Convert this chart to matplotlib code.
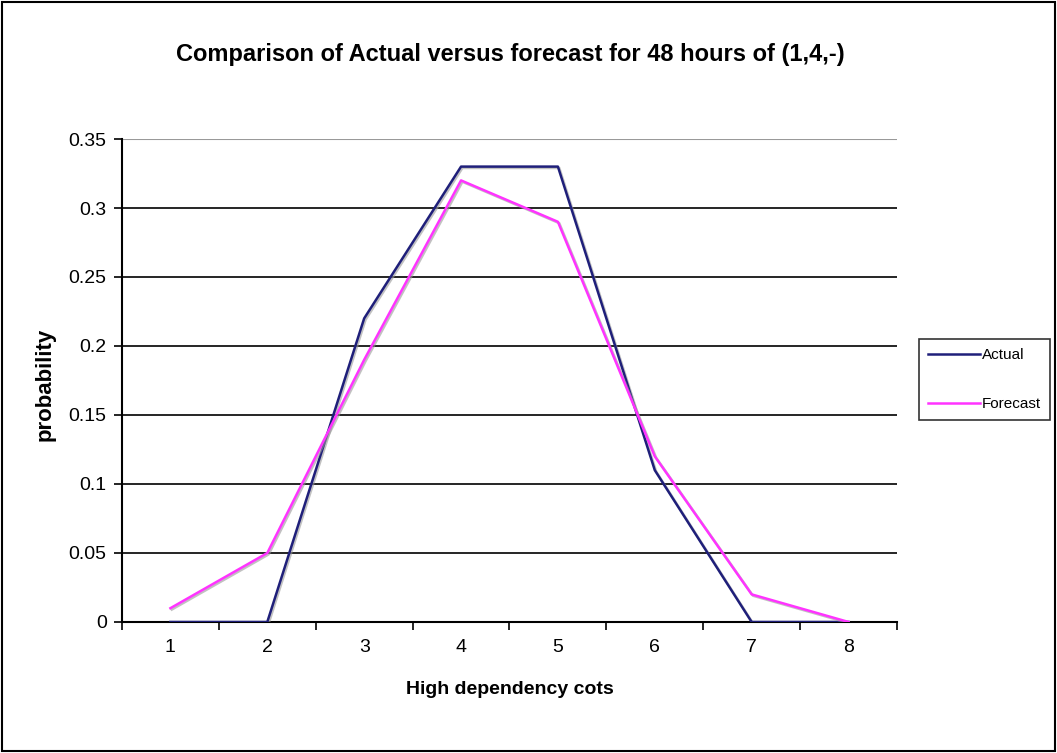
import matplotlib
matplotlib.use("Agg")
import matplotlib.pyplot as plt
import matplotlib.patheffects as pe
from matplotlib.patches import Rectangle

categories = [1, 2, 3, 4, 5, 6, 7, 8]
actual = [0, 0, 0.22, 0.33, 0.33, 0.11, 0, 0]
forecast = [0.01, 0.05, 0.19, 0.32, 0.29, 0.12, 0.02, 0]
yticks = [0, 0.05, 0.1, 0.15, 0.2, 0.25, 0.3, 0.35]
ytick_labels = ["0", "0.05", "0.1", "0.15", "0.2", "0.25", "0.3", "0.35"]

plt.rcParams['font.family'] = ['Liberation Sans', 'DejaVu Sans']

fig = plt.figure(figsize=(10.57, 7.53), dpi=100)
fig.patches.append(Rectangle((0.002, 0.002), 0.996, 0.995, transform=fig.transFigure,
                             fill=False, edgecolor='black', linewidth=1.5))
ax = fig.add_axes([0.1154, 0.174, 0.7332, 0.6414])

shadow = [pe.SimpleLineShadow(offset=(1, -1), shadow_color='#999999', alpha=0.6), pe.Normal()]
ax.plot(categories, actual, color='#1f1f7a', linewidth=1.8, label='Actual', path_effects=shadow, zorder=3)
ax.plot(categories, forecast, color='#ff33ff', linewidth=1.8, label='Forecast', path_effects=shadow, zorder=3)

ax.set_xlim(0.5, 8.5)
ax.set_ylim(0, 0.35)
ax.set_yticks(yticks)
ax.set_yticklabels(ytick_labels, fontsize=14)
for y in yticks[1:-1]:
    ax.axhline(y, color='black', linewidth=1.2, zorder=1)
ax.axhline(0.35, color='#999999', linewidth=1.5, zorder=1)

ax.set_xticks(categories)
ax.set_xticklabels([str(c) for c in categories], fontsize=14)
ax.tick_params(axis='x', which='major', length=0, pad=12)
ax.set_xticks([c + 0.5 for c in [0] + categories], minor=True)
ax.tick_params(axis='x', which='minor', length=6, direction='out', width=1.2)
ax.tick_params(axis='y', length=6, direction='out', width=1.2, pad=5)

for s in ['top', 'right']:
    ax.spines[s].set_visible(False)
ax.spines['left'].set_linewidth(1.5)
ax.spines['bottom'].set_linewidth(1.5)

ax.set_xlabel('High dependency cots', fontsize=14, fontweight='bold', labelpad=18)
fig.text(0.0426, 0.489, 'probability', rotation=90, ha='center', va='center',
         fontsize=16, fontweight='bold')
fig.text(0.4825, 0.927, 'Comparison of Actual versus forecast for 48 hours of (1,4,-)',
         ha='center', va='center', fontsize=17, fontweight='bold')

leg = fig.legend(loc='center left', bbox_to_anchor=(0.862, 0.496), frameon=True,
                 fancybox=False, edgecolor='black', fontsize=11, handlelength=3.4,
                 handletextpad=0.15, labelspacing=2.3, borderpad=0.6)
leg.get_frame().set_linewidth(1.2)
for line in leg.get_lines():
    line.set_path_effects([])

fig.savefig('out.png', dpi=100)
